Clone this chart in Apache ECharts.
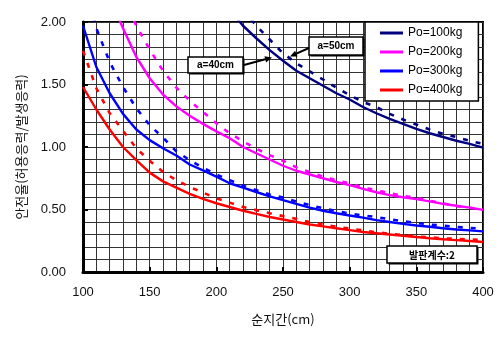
<!DOCTYPE html>
<html>
<head>
<meta charset="utf-8">
<script src="https://cdn.jsdelivr.net/npm/echarts@6/dist/echarts.min.js"></script>
<style>html,body{margin:0;padding:0;background:#fff;}#c{width:500px;height:342px;}</style>
</head>
<body>
<div id="c"></div>
<script>
// ---- data ----
const spans = [100,110,120,130,140,150,160,170,180,190,200,210,220,230,240,250,260,270,280,290,300,310,320,330,340,350,360,370,380,390,400];
const xTicks = [100,150,200,250,300,350,400];
const yTicks = [0,0.5,1.0,1.5,2.0];
const seriesNames = ['Po=100kg','Po=200kg','Po=300kg','Po=400kg'];
const seriesColors = ['#000080','#FF00FF','#0000FF','#FF0000'];

// a = 40cm (solid)
const po100_a40 = [null,null,null,null,null,null,null,null,null,null,null,2.10,1.97,1.87,1.775,1.69,1.61,1.55,1.49,1.43,1.38,1.32,1.27,1.225,1.185,1.145,1.11,1.08,1.05,1.025,0.995];
const po200_a40 = [null,null,2.20,1.95,1.72,1.55,1.42,1.325,1.25,1.185,1.125,1.07,1.00,0.95,0.90,0.85,0.81,0.78,0.75,0.72,0.695,0.665,0.638,0.615,0.598,0.583,0.565,0.545,0.53,0.515,0.497];
const po300_a40 = [1.97,1.64,1.43,1.265,1.14,1.055,0.99,0.932,0.86,0.813,0.763,0.71,0.675,0.64,0.605,0.575,0.545,0.515,0.49,0.47,0.452,0.435,0.415,0.40,0.385,0.372,0.362,0.35,0.34,0.333,0.325];
const po400_a40 = [1.48,1.30,1.14,1.00,0.895,0.795,0.725,0.675,0.625,0.585,0.55,0.52,0.49,0.465,0.44,0.42,0.40,0.38,0.365,0.35,0.335,0.32,0.31,0.30,0.29,0.28,0.27,0.262,0.255,0.248,0.24];
// a = 50cm (dashed)
const po100_a50 = [null,null,null,null,null,null,null,null,null,null,null,null,2.10,1.97,1.86,1.75,1.67,1.605,1.54,1.475,1.415,1.36,1.32,1.265,1.22,1.18,1.14,1.105,1.08,1.05,1.025];
const po200_a50 = [null,null,null,2.20,1.97,1.78,1.61,1.475,1.37,1.28,1.19,1.11,1.045,0.985,0.935,0.89,0.838,0.80,0.763,0.735,0.708,0.675,0.655,0.63,0.61,0.593,0.57,0.55,0.527,0.513,0.505];
const po300_a50 = [2.45,1.95,1.68,1.48,1.31,1.175,1.075,0.965,0.895,0.835,0.78,0.735,0.69,0.655,0.62,0.595,0.563,0.535,0.51,0.488,0.468,0.452,0.44,0.422,0.407,0.393,0.38,0.37,0.361,0.353,0.345];
const po400_a50 = [1.77,1.47,1.27,1.13,0.99,0.89,0.80,0.735,0.68,0.635,0.59,0.555,0.52,0.495,0.47,0.447,0.425,0.40,0.38,0.362,0.348,0.333,0.318,0.306,0.295,0.285,0.277,0.27,0.265,0.26,0.255];

const solidSets = [po100_a40, po200_a40, po300_a40, po400_a40];
const dashedSets = [po100_a50, po200_a50, po300_a50, po400_a50];

const xTitle = '순지간(cm)';
const yTitle = '안전율(허용응력/발생응력)';
const noteA40 = 'a=40cm';
const noteA50 = 'a=50cm';
const noteFactor = '발판계수:2';

// ---- chart ----
const numFont = '"Liberation Sans", Arial, sans-serif';
const krFont = '"Noto Sans CJK KR", "Noto Sans", sans-serif';

function pairs(vals){ return spans.map((x,i)=>[x, vals[i]]); }

const series = [];
solidSets.forEach((vals,i)=>{
  series.push({
    name: seriesNames[i], type:'line', data: pairs(vals), symbol:'none', smooth:false,
    clip:true, connectNulls:false, z:3,
    lineStyle:{color:seriesColors[i], width:2.4}, itemStyle:{color:seriesColors[i]}
  });
});
dashedSets.forEach((vals,i)=>{
  series.push({
    name: seriesNames[i] + ' (a=50cm)', type:'line', data: pairs(vals), symbol:'none', smooth:false,
    clip:true, connectNulls:false, z:3,
    lineStyle:{color:seriesColors[i], width:2.6, type:[5,8]}, itemStyle:{color:seriesColors[i]}
  });
});

function arrow(x1,y1,x2,y2){
  const dx=x2-x1, dy=y2-y1, L=Math.sqrt(dx*dx+dy*dy);
  const ux=dx/L, uy=dy/L, hl=7, hw=3.2;
  const bx=x2-ux*hl, by=y2-uy*hl;
  return [
    {type:'line', shape:{x1:x1,y1:y1,x2:bx,y2:by}, style:{stroke:'#000', lineWidth:2}, z:10},
    {type:'polygon', shape:{points:[[x2,y2],[bx-uy*hw,by+ux*hw],[bx+uy*hw,by-ux*hw]]}, style:{fill:'#000'}, z:10}
  ];
}
function box(x,y,w,h,text,font){
  return [
    {type:'rect', shape:{x:x+1.5,y:y+1.5,width:w,height:h}, style:{fill:'#000'}, z:9},
    {type:'rect', shape:{x:x,y:y,width:w,height:h}, style:{fill:'#fff', stroke:'#000', lineWidth:1.5}, z:10},
    {type:'text', x:x+w/2, y:y+h/2+0.5, style:{text:text, font:font, fill:'#000', align:'center', verticalAlign:'middle'}, z:11}
  ];
}

const graphics = [].concat(
  box(188,57,55,16,noteA40,'bold 10px ' + numFont),
  arrow(244,65,272,57.5),
  box(309,37,54,18,noteA50,'bold 10px ' + numFont),
  arrow(309,48,290,56.5),
  box(387,246,90,17,noteFactor,'bold 10px ' + krFont)
);

const chart = echarts.init(document.getElementById('c'), null, {renderer:'canvas'});
chart.setOption({
  animation:false,
  backgroundColor:'#fff',
  grid:{left:83, right:17, top:22, bottom:70, show:true, borderColor:'#000', borderWidth:2, backgroundColor:'transparent'},
  legend:{
    data: seriesNames.map((n,i)=>({name:n, icon:'rect', itemStyle:{color:seriesColors[i]}})),
    orient:'vertical', left:365, top:22,
    padding:[4,16,4,15], itemWidth:23, itemHeight:3, itemGap:5,
    backgroundColor:'#fff', borderColor:'#000', borderWidth:1.5,
    textStyle:{fontSize:12, color:'#000', fontFamily:numFont, lineHeight:14}
  },
  xAxis:{
    type:'value', min:xTicks[0], max:xTicks[xTicks.length-1], interval:50,
    name:xTitle, nameLocation:'middle', nameGap:41,
    nameTextStyle:{fontSize:13, color:'#111', fontFamily:krFont},
    axisLine:{show:true, lineStyle:{color:'#000', width:3}},
    axisTick:{show:true, inside:true, length:5, lineStyle:{color:'#000', width:2}},
    axisLabel:{fontSize:13, color:'#111', margin:14, fontFamily:numFont},
    splitLine:{show:true, lineStyle:{color:'#333', width:1}},
    minorTick:{show:false, splitNumber:5},
    minorSplitLine:{show:true, lineStyle:{color:'#333', width:1}}
  },
  yAxis:{
    type:'value', min:yTicks[0], max:yTicks[yTicks.length-1], interval:0.5,
    name:yTitle, nameLocation:'middle', nameGap:55, nameRotate:90,
    nameTextStyle:{fontSize:13, color:'#111', fontFamily:krFont},
    axisLine:{show:true, lineStyle:{color:'#000', width:3}},
    axisTick:{show:true, inside:true, length:5, lineStyle:{color:'#000', width:2}},
    axisLabel:{fontSize:13, color:'#111', margin:17, fontFamily:numFont, formatter:(v)=>v.toFixed(2)},
    splitLine:{show:true, lineStyle:{color:'#333', width:1}},
    minorTick:{show:false, splitNumber:5},
    minorSplitLine:{show:true, lineStyle:{color:'#333', width:1}}
  },
  series: series,
  graphic: graphics
});
</script>
</body>
</html>
